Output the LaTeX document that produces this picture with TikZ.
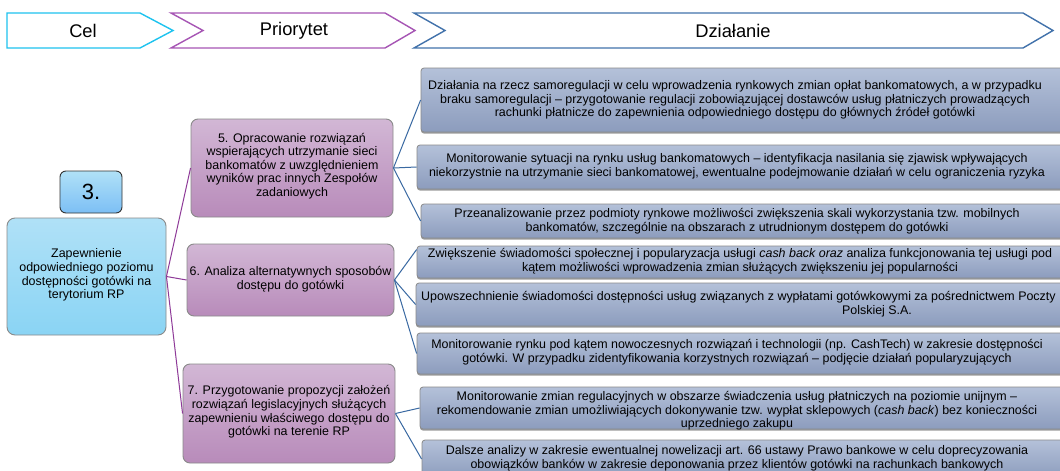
\documentclass[tikz,border=0pt]{standalone}
\usepackage{fontspec}
\setmainfont{Liberation Sans}
\usetikzlibrary{shadows,fit,calc}
\definecolor{celc}{HTML}{1EC3EF}
\definecolor{prioc}{HTML}{A655B4}
\definecolor{dzc}{HTML}{4272AB}
\definecolor{dtop}{HTML}{B4C1D9}
\definecolor{dbot}{HTML}{8C9CBD}
\definecolor{ptop}{HTML}{D2B7D5}
\definecolor{pbot}{HTML}{B88BBA}
\definecolor{ltop}{HTML}{B0E1F7}
\definecolor{lbot}{HTML}{8AD4F4}
\definecolor{edgec}{HTML}{8A8A8A}
\definecolor{purln}{HTML}{8E3A98}
\definecolor{bluln}{HTML}{3A69A2}
\begin{document}
\begin{tikzpicture}[x=1pt,y=-1pt,
  hdr/.style={line width=1.4pt, fill=white, line join=miter},
  hdrtext/.style={font=\fontsize{18.3}{20}\selectfont, inner sep=0pt},
  body/.style={font=\fontsize{12.45}{13.6}\selectfont, align=center, inner sep=0pt, text=black},
  dbox/.style={draw=edgec, line width=0.8pt, top color=dtop, bottom color=dbot, rounded corners=3pt, inner sep=0pt,
     drop shadow={shadow xshift=0pt, shadow yshift=-1.6pt, opacity=0.55, fill=black!70}},
  pbox/.style={draw=edgec, line width=0.9pt, top color=ptop, bottom color=pbot, rounded corners=7pt, inner sep=0pt},
  lbox/.style={draw=edgec, line width=0.9pt, top color=ltop, bottom color=lbot, rounded corners=8pt, inner sep=0pt},
  nbox/.style={draw=black!80, line width=0.9pt, top color=ltop, bottom color=lbot!90!blue, rounded corners=6pt, inner sep=0pt},
  pline/.style={draw=purln, line width=1pt},
  bline/.style={draw=bluln, line width=1pt}]
\useasboundingbox (0,0) rectangle (1060,471);
\fill[white] (0,0) rectangle (1060,471);

% header chevrons
\draw[hdr, draw=celc] (7,13) -- (140,13) -- (173,30.5) -- (140,48) -- (7,48) -- cycle;
\draw[hdr, draw=prioc] (171,13) -- (385,13) -- (415,30.5) -- (385,48) -- (171,48) -- (203,30.5) -- cycle;
\draw[hdr, draw=dzc] (414,13) -- (1023,13) -- (1053,30.5) -- (1023,48) -- (414,48) -- (445,30.5) -- cycle;
\node[hdrtext] (hcel) at (83,30.5) {Cel};
\node[hdrtext] (hprio) at (294,30.5) {Priorytet};
\node[hdrtext] (hdz) at (733,30.5) {Działanie};

% left column
\node[nbox, fit={(60,171) (122,213)}] (num) {};
\node[font=\fontsize{22}{24}\selectfont, inner sep=0pt] (numt) at (num.center) {3.};
\node[lbox, fit={(7,218) (166,335)}] (goal) {};
\node[body] (goalt) at (86.5,275) {Zapewnienie\\ odpowiedniego poziomu\\ dostępności gotówki na\\ terytorium RP};

% priorities
\node[pbox, fit={(191,119) (393,217)}] (p5) {};
\node[body] (p5t) at (292,166) {5. Opracowanie rozwiązań\\ wspierających utrzymanie sieci\\ bankomatów z uwzględnieniem\\ wyników prac innych Zespołów\\ zadaniowych};
\node[pbox, fit={(187,244) (394,316)}] (p6) {};
\node[body] (p6t) at (290.5,279.5) {6. Analiza alternatywnych sposobów\\ dostępu do gotówki};
\node[pbox, fit={(183,364) (395,463)}] (p7) {};
\node[body] (p7t) at (289,412) {7. Przygotowanie propozycji założeń\\ rozwiązań legislacyjnych służących\\ zapewnieniu właściwego dostępu do\\ gotówki na terenie RP};

% actions
\node[dbox, fit={(421,68) (1075,132)}] (b1) {};
\node[dbox, fit={(417,145) (1075,189)}] (b2) {};
\node[dbox, fit={(421,204) (1075,238)}] (b3) {};
\node[dbox, fit={(417,246) (1075,278)}] (b4) {};
\node[dbox, fit={(416,283) (1075,326)}] (b5) {};
\node[dbox, fit={(417,333) (1075,374)}] (b6) {};
\node[dbox, fit={(420,387) (1075,429)}] (b7) {};
\node[dbox, fit={(422,440) (1075,478)}] (b8) {};

\node[body] (b1t) at (735,100) {Działania na rzecz samoregulacji w celu wprowadzenia rynkowych zmian opłat bankomatowych, a w przypadku\\ braku samoregulacji – przygotowanie regulacji zobowiązującej dostawców usług płatniczych prowadzących\\ rachunki płatnicze do zapewnienia odpowiedniego dostępu do głównych źródeł gotówki};
\node[body] (b2t) at (737,166.5) {Monitorowanie sytuacji na rynku usług bankomatowych – identyfikacja nasilania się zjawisk wpływających\\ niekorzystnie na utrzymanie sieci bankomatowej, ewentualne podejmowanie działań w celu ograniczenia ryzyka};
\node[body] (b3t) at (737,221) {Przeanalizowanie przez podmioty rynkowe możliwości zwiększenia skali wykorzystania tzw. mobilnych\\ bankomatów, szczególnie na obszarach z utrudnionym dostępem do gotówki};
\node[body] (b4t) at (740,261) {Zwiększenie świadomości społecznej i popularyzacja usługi \textit{cash back oraz} analiza funkcjonowania tej usługi pod\\ kątem możliwości wprowadzenia zmian służących zwiększeniu jej popularności};
\node[body, anchor=west] (b5t) at (421,297.5) {Upowszechnienie świadomości dostępności usług związanych z wypłatami gotówkowymi za pośrednictwem Poczty};
\node[body] (b5u) at (877,311) {Polskiej S.A.};
\node[body] (b6t) at (737,352.5) {Monitorowanie rynku pod kątem nowoczesnych rozwiązań i technologii (np. CashTech) w zakresie dostępności\\ gotówki. W przypadku zidentyfikowania korzystnych rozwiązań – podjęcie działań popularyzujących};
\node[body] (b7t) at (737,411) {Monitorowanie zmian regulacyjnych w obszarze świadczenia usług płatniczych na poziomie unijnym –\\ rekomendowanie zmian umożliwiających dokonywanie tzw. wypłat sklepowych (\textit{cash back}) bez konieczności\\ uprzedniego zakupu};
\node[body] (b8t) at (737,458.5) {Dalsze analizy w zakresie ewentualnej nowelizacji art. 66 ustawy Prawo bankowe w celu doprecyzowania\\ obowiązków banków w zakresie deponowania przez klientów gotówki na rachunkach bankowych};

% connectors
\draw[pline] (goal.east) -- (p5.west);
\draw[pline] (goal.east) -- (p6.west);
\draw[pline] (goal.east) -- (p7.west);
\draw[bline] (p5.east) -- (b1.west);
\draw[bline] (p5.east) -- (b2.west);
\draw[bline] (p5.east) -- (b3.west);
\draw[bline] (p6.east) -- ($(b4.north west)!0.12!(b4.south west)$);
\draw[bline] (p6.east) -- (b5.west);
\draw[bline] (p6.east) -- (b6.west);
\draw[bline] (p7.east) -- (b7.west);
\draw[bline] (p7.east) -- (b8.west);
\end{tikzpicture}
\end{document}
